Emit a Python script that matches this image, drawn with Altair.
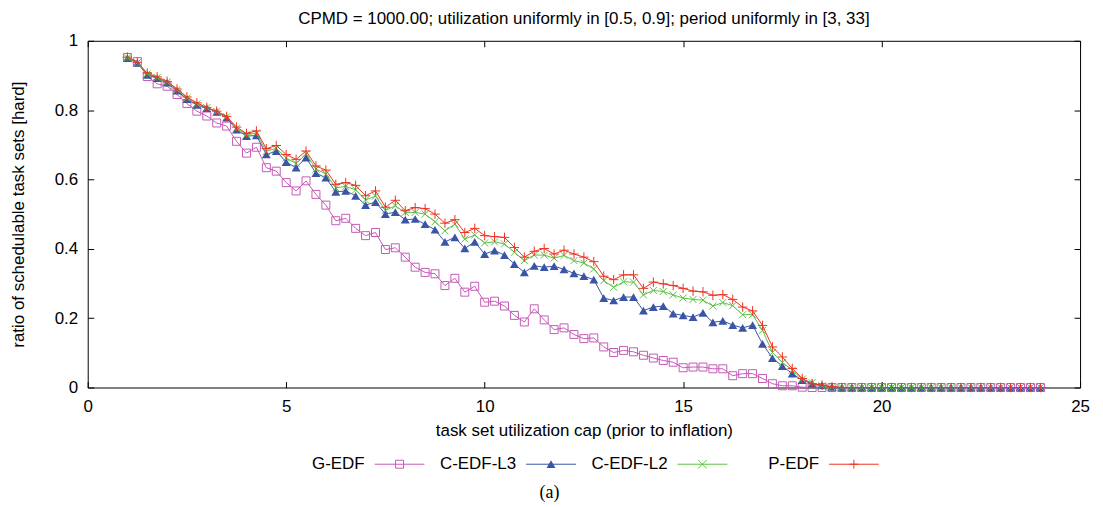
import altair as alt
import pandas as pd

FONT = "Liberation Sans"

x_vals = [1.0, 1.25, 1.5, 1.75, 2.0, 2.25, 2.5, 2.75, 3.0, 3.25, 3.5, 3.75,
          4.0, 4.25, 4.5, 4.75, 5.0, 5.25, 5.5, 5.75, 6.0, 6.25, 6.5, 6.75,
          7.0, 7.25, 7.5, 7.75, 8.0, 8.25, 8.5, 8.75, 9.0, 9.25, 9.5, 9.75,
          10.0, 10.25, 10.5, 10.75, 11.0, 11.25, 11.5, 11.75, 12.0, 12.25, 12.5, 12.75,
          13.0, 13.25, 13.5, 13.75, 14.0, 14.25, 14.5, 14.75, 15.0, 15.25, 15.5, 15.75,
          16.0, 16.25, 16.5, 16.75, 17.0, 17.25, 17.5, 17.75, 18.0, 18.25, 18.5, 18.75,
          19.0, 19.25, 19.5, 19.75, 20.0, 20.25, 20.5, 20.75, 21.0, 21.25, 21.5, 21.75,
          22.0, 22.25, 22.5, 22.75, 23.0, 23.25, 23.5, 23.75, 24.0]

g_edf = [0.952, 0.940, 0.897, 0.876, 0.869, 0.845, 0.819, 0.797,
         0.783, 0.763, 0.754, 0.710, 0.676, 0.693, 0.634, 0.624,
         0.591, 0.567, 0.596, 0.557, 0.526, 0.481, 0.488, 0.459,
         0.438, 0.447, 0.398, 0.403, 0.376, 0.347, 0.332, 0.328,
         0.294, 0.315, 0.275, 0.292, 0.246, 0.249, 0.235, 0.208,
         0.189, 0.227, 0.195, 0.167, 0.172, 0.153, 0.141, 0.143,
         0.117, 0.101, 0.107, 0.103, 0.093, 0.085, 0.078, 0.073,
         0.057, 0.059, 0.059, 0.054, 0.054, 0.034, 0.040, 0.040,
         0.026, 0.011, 0.005, 0.005, 0.001, 0.0, 0.0, 0.0,
         0.0, 0.0, 0.0, 0.0, 0.0, 0.0, 0.0, 0.0, 0.0, 0.0, 0.0, 0.0,
         0.0, 0.0, 0.0, 0.0, 0.0, 0.0, 0.0, 0.0, 0.0]

c_edf_l3 = [0.950, 0.936, 0.902, 0.892, 0.879, 0.856, 0.832, 0.815,
            0.806, 0.795, 0.778, 0.744, 0.725, 0.727, 0.672, 0.682,
            0.650, 0.634, 0.663, 0.618, 0.605, 0.564, 0.567, 0.553,
            0.526, 0.535, 0.500, 0.506, 0.484, 0.486, 0.471, 0.455,
            0.420, 0.433, 0.401, 0.420, 0.385, 0.395, 0.382, 0.356,
            0.332, 0.351, 0.347, 0.350, 0.341, 0.329, 0.321, 0.311,
            0.258, 0.251, 0.261, 0.261, 0.222, 0.232, 0.235, 0.213,
            0.208, 0.203, 0.215, 0.188, 0.192, 0.180, 0.172, 0.180,
            0.126, 0.085, 0.062, 0.040, 0.021, 0.011, 0.006, 0.002,
            0.0, 0.0, 0.0, 0.0, 0.0, 0.0, 0.0, 0.0, 0.0, 0.0, 0.0, 0.0,
            0.0, 0.0, 0.0, 0.0, 0.0, 0.0, 0.0, 0.0, 0.0]

c_edf_l2 = [0.951, 0.937, 0.905, 0.894, 0.881, 0.859, 0.835, 0.818,
            0.807, 0.796, 0.781, 0.748, 0.729, 0.734, 0.681, 0.690,
            0.662, 0.646, 0.674, 0.630, 0.616, 0.576, 0.580, 0.570,
            0.541, 0.552, 0.511, 0.524, 0.505, 0.505, 0.500, 0.478,
            0.452, 0.471, 0.428, 0.440, 0.417, 0.420, 0.414, 0.390,
            0.366, 0.382, 0.382, 0.373, 0.381, 0.366, 0.359, 0.342,
            0.308, 0.289, 0.305, 0.304, 0.267, 0.280, 0.277, 0.267,
            0.258, 0.254, 0.252, 0.235, 0.245, 0.236, 0.210, 0.210,
            0.165, 0.101, 0.072, 0.050, 0.024, 0.014, 0.005, 0.002,
            0.0, 0.0, 0.0, 0.0, 0.0, 0.0, 0.0, 0.0, 0.0, 0.0, 0.0, 0.0,
            0.0, 0.0, 0.0, 0.0, 0.0, 0.0, 0.0, 0.0, 0.0]

p_edf = [0.953, 0.938, 0.907, 0.896, 0.883, 0.861, 0.838, 0.821,
         0.808, 0.797, 0.782, 0.751, 0.733, 0.740, 0.689, 0.698,
         0.672, 0.658, 0.682, 0.639, 0.627, 0.586, 0.591, 0.583,
         0.553, 0.567, 0.520, 0.540, 0.510, 0.519, 0.516, 0.500,
         0.474, 0.484, 0.447, 0.459, 0.438, 0.435, 0.433, 0.404,
         0.376, 0.393, 0.401, 0.385, 0.396, 0.385, 0.376, 0.363,
         0.321, 0.311, 0.325, 0.325, 0.286, 0.304, 0.299, 0.294,
         0.286, 0.278, 0.276, 0.266, 0.268, 0.254, 0.232, 0.221,
         0.179, 0.117, 0.088, 0.055, 0.026, 0.011, 0.007, 0.002,
         0.0, 0.0, 0.0, 0.0, 0.0, 0.0, 0.0, 0.0, 0.0, 0.0, 0.0, 0.0,
         0.0, 0.0, 0.0, 0.0, 0.0, 0.0, 0.0, 0.0, 0.0]

names = ["G-EDF", "C-EDF-L3", "C-EDF-L2", "P-EDF"]
colors = ["#c55ab5", "#3a55a5", "#5cbf46", "#ee3322"]
shapes = ["square", "triangle-up", "M-1,-1L1,1M-1,1L1,-1", "M-1,0L1,0M0,-1L0,1"]
sizes = [64, 80, 50, 90]
filled = [False, True, False, False]

x_ticks = [0, 5, 10, 15, 20, 25]
y_ticks = [0, 0.2, 0.4, 0.6, 0.8, 1]

rows = []
for name, vals in zip(names, [g_edf, c_edf_l3, c_edf_l2, p_edf]):
    for xv, yv in zip(x_vals, vals):
        rows.append({"series": name, "cap": xv, "ratio": yv})
df = pd.DataFrame(rows)

xscale = alt.Scale(domain=[0, 25], nice=False, zero=False)
yscale = alt.Scale(domain=[0, 1], nice=False, zero=False)

common_axis = dict(tickSize=6, offset=-6, domain=False, grid=False, tickColor="black",
                   tickWidth=1, labelFont=FONT, labelFontSize=17, labelColor="black",
                   labelFlush=False, titleFont=FONT, titleFontSize=17,
                   titleFontWeight="normal", titleColor="black")

bottom_axis = alt.Axis(orient="bottom", values=x_ticks, format="d", labelPadding=11,
                       titlePadding=8, **common_axis)
left_axis = alt.Axis(orient="left", values=y_ticks, format="~g", labelPadding=10,
                     titlePadding=27, **common_axis)
top_axis = alt.Axis(orient="top", values=x_ticks, labels=False, **common_axis)
right_axis = alt.Axis(orient="right", values=y_ticks, labels=False, **common_axis)

base = alt.Chart(df)

axes_bl = base.transform_filter("datum.ratio > 5").mark_point(opacity=0).encode(
    x=alt.X("cap:Q", scale=xscale, axis=bottom_axis,
            title="task set utilization cap (prior to inflation)"),
    y=alt.Y("ratio:Q", scale=yscale, axis=left_axis,
            title="ratio of schedulable task sets [hard]"),
)
axes_tr = base.transform_filter("datum.ratio > 5").mark_point(opacity=0).encode(
    x=alt.X("cap:Q", scale=xscale, axis=top_axis, title=None),
    y=alt.Y("ratio:Q", scale=yscale, axis=right_axis, title=None),
)

layers = [axes_bl, axes_tr]
for name, col, shp, sz, fl in zip(names, colors, shapes, sizes, filled):
    sub = base.transform_filter(alt.datum.series == name)
    enc = dict(x=alt.X("cap:Q", scale=xscale, axis=None),
               y=alt.Y("ratio:Q", scale=yscale, axis=None))
    layers.append(sub.mark_line(color=col, strokeWidth=1).encode(**enc))
    layers.append(sub.mark_point(shape=shp, size=sz, filled=fl, color=col,
                                 strokeWidth=1, opacity=1).encode(**enc))

main = alt.layer(*layers).resolve_axis(x="independent", y="independent").properties(
    width=996, height=348,
    view=alt.ViewBackground(stroke="black", strokeWidth=1),
    title=alt.TitleParams(
        "CPMD = 1000.00; utilization uniformly in [0.5, 0.9]; period uniformly in [3, 33]",
        font=FONT, fontSize=17, fontWeight="normal", color="black",
        anchor="middle", frame="group", offset=4),
)

# gnuplot-style key: label, then a line sample with the marker
leg_df = pd.DataFrame({"series": names})
color_scale = alt.Scale(domain=names, range=colors)
leg_x = alt.X("series:N",
              scale=alt.Scale(type="point", domain=names, range=[313, 769], padding=0),
              axis=None)
leg_base = alt.Chart(leg_df)
leg_text = leg_base.mark_text(align="right", baseline="middle", dx=-35, font=FONT,
                              fontSize=17, color="black").encode(x=leg_x, text="series:N")
leg_line = leg_base.mark_point(shape="M-1,0L1,0", size=2500, filled=False, strokeWidth=1,
                               opacity=1).encode(
    x=leg_x, color=alt.Color("series:N", scale=color_scale, legend=None))
leg_open = leg_base.transform_filter(alt.datum.series != "C-EDF-L3").mark_point(
    filled=False, strokeWidth=1, opacity=1).encode(
    x=leg_x,
    color=alt.Color("series:N", scale=color_scale, legend=None),
    shape=alt.Shape("series:N", scale=alt.Scale(domain=names, range=shapes), legend=None),
    size=alt.Size("series:N", scale=alt.Scale(domain=names, range=sizes), legend=None),
)
leg_tri = leg_base.transform_filter(alt.datum.series == "C-EDF-L3").mark_point(
    filled=True, shape="triangle-up", size=80, opacity=1, color=colors[1]).encode(x=leg_x)
legend = alt.layer(leg_text, leg_line, leg_open, leg_tri).properties(width=900, height=20)

chart = alt.vconcat(main, legend, spacing=15).properties(
    padding={"left": 0, "top": 0, "right": 5, "bottom": 0},
    title=alt.TitleParams("(a)", orient="bottom", anchor="middle", font="Liberation Serif",
                          fontSize=18, fontWeight="normal", color="black", offset=10),
).configure_view(strokeWidth=0)

chart.save("out.html", embed_options={"renderer": "svg", "actions": False})
